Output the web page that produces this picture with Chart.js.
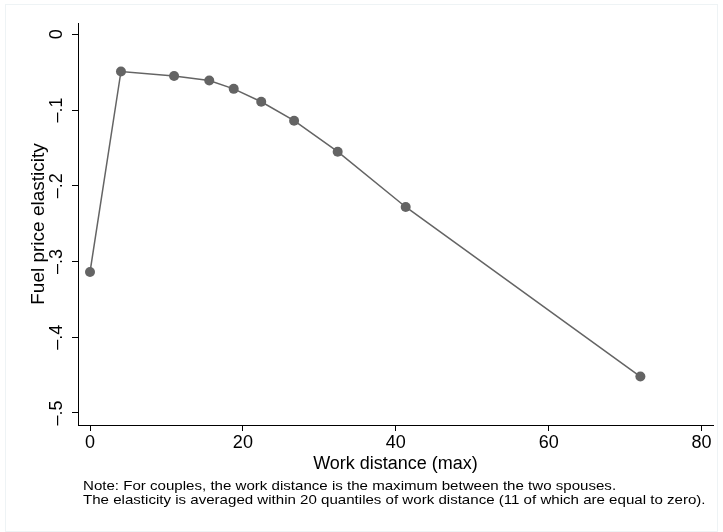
<!DOCTYPE html>
<html>
<head>
<meta charset="utf-8">
<script src="https://cdn.jsdelivr.net/npm/chart.js@4/dist/chart.umd.min.js"></script>
<style>
  html, body { margin: 0; padding: 0; background: #fff; }
  #wrap { width: 723px; height: 532px; position: relative; }
</style>
</head>
<body>
<div id="wrap"><canvas id="chart" width="723" height="532"></canvas></div>
<script>
// data
const distance = [0, 4.05, 11.0, 15.6, 18.8, 22.4, 26.7, 32.4, 41.3, 72.0];
const elasticity = [-0.314, -0.049, -0.055, -0.061, -0.072, -0.089, -0.114, -0.155, -0.228, -0.452];

const xTicks = [0, 20, 40, 60, 80];
const yTicks = [0, -0.1, -0.2, -0.3, -0.4, -0.5];
const yTickLabels = ['0', '\u2013.1', '\u2013.2', '\u2013.3', '\u2013.4', '\u2013.5'];

const noteLines = [
    'Note: For couples, the work distance is the maximum between the two spouses.',
    'The elasticity is averaged within 20 quantiles of work distance (11 of which are equal to zero).'
];

const FONT = "'Liberation Sans', Arial, sans-serif";
const GRAY = '#646464';

// faint frame + note text under the chart
const notePlugin = {
    id: 'notes',
    beforeDraw(chart) {
        const ctx = chart.ctx;
        ctx.save();
        ctx.fillStyle = '#ffffff';
        ctx.fillRect(0, 0, chart.width, chart.height);
        ctx.strokeStyle = '#eef3f5';
        ctx.lineWidth = 1;
        ctx.strokeRect(5.5, 4.5, chart.width - 11, chart.height - 5);
        ctx.restore();
    },
    afterDraw(chart) {
        const ctx = chart.ctx;
        ctx.save();
        ctx.font = '13px ' + FONT;
        ctx.fillStyle = '#000';
        ctx.textBaseline = 'middle';
        ctx.textAlign = 'left';
        // Stata's note text runs a bit wider than Liberation Sans
        ctx.translate(83, 0);
        ctx.scale(1.16, 1);
        noteLines.forEach((line, i) => {
            ctx.fillText(line, 0, 486.5 + i * 13.5);
        });
        ctx.restore();
    }
};

const points = distance.map((d, i) => ({ x: d, y: elasticity[i] }));

new Chart(document.getElementById('chart'), {
    type: 'scatter',
    data: {
        datasets: [{
            data: points,
            showLine: true,
            borderColor: GRAY,
            borderWidth: 1.5,
            backgroundColor: GRAY,
            pointBackgroundColor: GRAY,
            pointBorderWidth: 0,
            pointRadius: 5,
            pointHoverRadius: 5
        }]
    },
    options: {
        responsive: false,
        animation: false,
        events: [],
        layout: { padding: { left: 0, top: 23, right: 10, bottom: 57 } },
        plugins: {
            legend: { display: false },
            tooltip: { enabled: false }
        },
        scales: {
            x: {
                type: 'linear',
                min: -1.57,
                max: 81.5,
                afterBuildTicks: s => { s.ticks = xTicks.map(v => ({ value: v })); },
                afterFit: s => { s.height = 50; },
                grid: { drawOnChartArea: false, drawTicks: true, tickLength: 6, color: '#000' },
                border: { display: true, color: '#000', width: 1 },
                ticks: {
                    color: '#000',
                    font: { family: FONT, size: 18 },
                    padding: 1,
                    maxRotation: 0,
                    autoSkip: false,
                    callback: v => String(v)
                },
                title: {
                    display: true,
                    text: 'Work distance (max)',
                    color: '#000',
                    font: { family: FONT, size: 18 },
                    padding: { top: 0, bottom: 0 }
                }
            },
            y: {
                type: 'linear',
                min: -0.516,
                max: 0.015,
                afterBuildTicks: s => { s.ticks = yTicks.map(v => ({ value: v })); },
                afterFit: s => { s.width = 78; },
                grid: { drawOnChartArea: false, drawTicks: true, tickLength: 6, color: '#000' },
                border: { display: true, color: '#000', width: 1 },
                ticks: {
                    color: '#000',
                    font: { family: FONT, size: 18 },
                    minRotation: 90,
                    maxRotation: 90,
                    crossAlign: 'center',
                    padding: 2,
                    autoSkip: false,
                    callback: (v, i) => yTickLabels[i]
                },
                title: {
                    display: true,
                    text: 'Fuel price elasticity',
                    color: '#000',
                    font: { family: FONT, size: 19 },
                    padding: { top: 27, bottom: 0 }
                }
            }
        }
    },
    plugins: [notePlugin]
});
</script>
</body>
</html>
